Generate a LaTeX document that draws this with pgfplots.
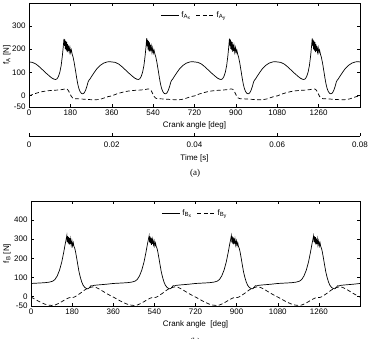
\documentclass[border=0pt]{standalone}
\usepackage{pgfplots}
\pgfplotsset{compat=1.18}
\usepackage{fontspec}
\setmainfont{Liberation Sans}
\newfontfamily\capfont{Liberation Serif}

\pgfplotsset{
  forceplot/.style={
    scale only axis,
    xmin=0, xmax=1440,
    xtick={0,180,360,540,720,900,1080,1260},
    xticklabels={0,180,360,540,720,900,1080,1260},
    tick align=inside,
    major tick length=3pt,
    tick style={black, line width=0.5pt},
    axis line style={black, line width=0.6pt},
    ticklabel style={font=\fontsize{8}{9}\selectfont},
    label style={font=\fontsize{8}{9}\selectfont},
    xticklabel style={yshift=1pt},
    legend style={draw=none, fill=none, at={(0.5,0.96)}, anchor=north,
      font=\fontsize{8}{9}\selectfont, legend columns=2,
      /tikz/every even column/.append style={column sep=3pt}},
    legend image code/.code={\draw[#1] (0pt,0pt) -- (18pt,0pt);},
  },
  solidcurve/.style={black, solid, no marks, line width=0.7pt},
  dashedcurve/.style={black, no marks, line width=0.7pt, dash pattern=on 4pt off 2.5pt},
}

\begin{document}
\begin{tikzpicture}
\path[use as bounding box] (0pt,0pt) rectangle (369pt,339pt);

% ---------- (a) forces at joint A ----------
\begin{axis}[forceplot,
  at={(29pt,232pt)}, anchor=south west,
  width=331pt, height=104pt,
  ymin=-50, ymax=400,
  ytick={-50,0,100,200,300},
  yticklabels={-50,0,100,200,300},
  xlabel={Crank angle [deg]},
  xlabel style={at={(axis description cs:0.5,-0.18)}, anchor=center},
  ylabel={f\textsubscript{A} [N]},
  ylabel style={at={(axis description cs:-0.067,0.5)}, anchor=center},
]
\addplot[solidcurve] coordinates {
(0,145)(15,143)(30,136)(45,124)(60,110)(75,96)(90,83)(100,75)(110,70)(116,69)(122,72)(128,82)(134,100)(140,130)(145,170)(149,210)(152,245)(154,215)(156,242)(158,200)(160,235)(162,195)(164,232)(166,188)(168,222)(170,192)(172,215)(175,188)(178,208)(181,185)(184,198)(188,178)(192,165)(197,140)(202,110)(207,78)(212,50)(217,30)(222,17)(228,9)(234,7)(240,11)(246,22)(252,40)(257,58)(261,66)(266,72)(272,82)(282,97)(295,115)(310,130)(325,140)(340,145)(350,146)
(360,145)(375,143)(390,136)(405,124)(420,110)(435,96)(450,83)(460,75)(470,70)(476,69)(482,72)(488,82)(494,100)(500,130)(505,170)(509,210)(512,248)(514,212)(516,240)(518,198)(520,236)(522,192)(524,230)(526,190)(528,220)(530,194)(532,212)(535,186)(538,206)(541,184)(544,196)(548,178)(552,165)(557,140)(562,110)(567,78)(572,50)(577,30)(582,17)(588,9)(594,7)(600,11)(606,22)(612,40)(617,58)(621,66)(626,72)(632,82)(642,97)(655,115)(670,130)(685,140)(700,145)(710,146)
(720,145)(735,143)(750,136)(765,124)(780,110)(795,96)(810,83)(820,75)(830,70)(836,69)(842,72)(848,82)(854,100)(860,130)(865,170)(869,210)(872,246)(874,214)(876,243)(878,202)(880,234)(882,196)(884,231)(886,189)(888,221)(890,193)(892,214)(895,187)(898,207)(901,185)(904,197)(908,178)(912,165)(917,140)(922,110)(927,78)(932,50)(937,30)(942,17)(948,9)(954,7)(960,11)(966,22)(972,40)(977,58)(981,66)(986,72)(992,82)(1002,97)(1015,115)(1030,130)(1045,140)(1060,145)(1070,146)
(1080,145)(1095,143)(1110,136)(1125,124)(1140,110)(1155,96)(1170,83)(1180,75)(1190,70)(1196,69)(1202,72)(1208,82)(1214,100)(1220,130)(1225,170)(1229,210)(1232,247)(1234,213)(1236,241)(1238,199)(1240,236)(1242,194)(1244,231)(1246,188)(1248,222)(1250,192)(1252,214)(1255,187)(1258,207)(1261,185)(1264,197)(1268,178)(1272,165)(1277,140)(1282,110)(1287,78)(1292,50)(1297,30)(1302,17)(1308,9)(1314,7)(1320,11)(1326,22)(1332,40)(1337,58)(1341,66)(1346,72)(1352,82)(1362,97)(1375,115)(1390,130)(1405,140)(1420,145)(1430,146)(1440,145)
};
\addlegendentry{f\textsubscript{A\textsubscript{x}}}
\addplot[dashedcurve] coordinates {
(0,-2)(20,6)(40,12)(60,17)(80,20)(100,22)(120,23)(140,25)(158,28)(166,27)(172,20)(178,8)(184,-4)(190,-11)(198,-14)(220,-15)(250,-17)(280,-19)(300,-18)(315,-15)(330,-10)(345,-5)
(360,-2)(380,6)(400,12)(420,17)(440,20)(460,22)(480,23)(500,25)(518,28)(526,27)(532,20)(538,8)(544,-4)(550,-11)(558,-14)(580,-15)(610,-17)(640,-19)(660,-18)(675,-15)(690,-10)(705,-5)
(720,-2)(740,6)(760,12)(780,17)(800,20)(820,22)(840,23)(860,25)(878,28)(886,27)(892,20)(898,8)(904,-4)(910,-11)(918,-14)(940,-15)(970,-17)(1000,-19)(1020,-18)(1035,-15)(1050,-10)(1065,-5)
(1080,-2)(1100,6)(1120,12)(1140,17)(1160,20)(1180,22)(1200,23)(1220,25)(1238,28)(1246,27)(1252,20)(1258,8)(1264,-4)(1270,-11)(1278,-14)(1300,-15)(1330,-17)(1360,-19)(1380,-18)(1395,-15)(1410,-10)(1425,-5)(1440,-2)
};
\addlegendentry{f\textsubscript{A\textsubscript{y}}}
\end{axis}

% ---------- time scale under (a) ----------
\begin{axis}[
  at={(29pt,203pt)}, anchor=south west,
  scale only axis, width=331pt, height=1pt,
  xmin=0, xmax=0.08, ymin=0, ymax=1,
  axis y line=none, axis x line*=bottom,
  scaled x ticks=false,
  xtick={0,0.02,0.04,0.06,0.08},
  xticklabels={0,0.02,0.04,0.06,0.08},
  tick align=inside, major tick length=3pt,
  tick style={black, line width=0.5pt},
  axis line style={black, line width=0.6pt},
  ticklabel style={font=\fontsize{8}{9}\selectfont},
  xticklabel style={yshift=-2pt},
  xlabel={Time [s]},
  xlabel style={font=\fontsize{8}{9}\selectfont, at={(axis description cs:0.5,0)}, anchor=center, yshift=-22pt},
]
\end{axis}

\node[font=\capfont\fontsize{9}{10}\selectfont] at (195pt,166pt) {(a)};

% ---------- (b) forces at joint B ----------
\begin{axis}[forceplot,
  at={(31pt,33pt)}, anchor=south west,
  width=329pt, height=105pt,
  ymin=-50, ymax=500,
  ytick={-50,0,100,200,300,400},
  yticklabels={-50,0,100,200,300,400},
  xlabel={Crank angle\ \ [deg]},
  xlabel style={at={(axis description cs:0.5,-0.18)}, anchor=center},
  ylabel={f\textsubscript{B} [N]},
  ylabel style={at={(axis description cs:-0.073,0.5)}, anchor=center},
]
\addplot[solidcurve] coordinates {
(0,68)(30,70)(60,72)(80,75)(95,80)(105,89)(115,108)(125,138)(135,182)(143,230)(149,270)(154,300)(157,320)(159,285)(161,316)(163,278)(165,310)(167,272)(169,305)(171,276)(173,300)(176,268)(179,292)(182,265)(185,282)(188,262)(192,250)(196,228)(200,200)(205,165)(210,130)(216,100)(222,76)(228,59)(235,48)(242,42)(248,40)(253,43)(258,50)(262,56)(268,55)(275,58)(290,60)(310,62)(330,64)(345,66)
(360,68)(390,70)(420,72)(440,75)(455,80)(465,89)(475,108)(485,138)(495,182)(503,230)(509,270)(514,300)(517,318)(519,283)(521,314)(523,280)(525,308)(527,270)(529,304)(531,275)(533,298)(536,270)(539,290)(542,264)(545,280)(548,262)(552,250)(556,228)(560,200)(565,165)(570,130)(576,100)(582,76)(588,59)(595,48)(602,42)(608,40)(613,43)(618,50)(622,56)(628,55)(635,58)(650,60)(670,62)(690,64)(705,66)
(720,68)(750,70)(780,72)(800,75)(815,80)(825,89)(835,108)(845,138)(855,182)(863,230)(869,270)(874,300)(877,319)(879,284)(881,315)(883,277)(885,309)(887,273)(889,304)(891,277)(893,299)(896,269)(899,291)(902,266)(905,281)(908,262)(912,250)(916,228)(920,200)(925,165)(930,130)(936,100)(942,76)(948,59)(955,48)(962,42)(968,40)(973,43)(978,50)(982,56)(988,55)(995,58)(1010,60)(1030,62)(1050,64)(1065,66)
(1080,68)(1110,70)(1140,72)(1160,75)(1175,80)(1185,89)(1195,108)(1205,138)(1215,182)(1223,230)(1229,270)(1234,300)(1237,318)(1239,286)(1241,314)(1243,279)(1245,310)(1247,271)(1249,303)(1251,276)(1253,300)(1256,268)(1259,291)(1262,265)(1265,282)(1268,262)(1272,250)(1276,228)(1280,200)(1285,165)(1290,130)(1296,100)(1302,76)(1308,59)(1315,48)(1322,42)(1328,40)(1333,43)(1338,50)(1342,56)(1348,55)(1355,58)(1370,60)(1390,62)(1410,64)(1425,66)(1440,68)
};
\addlegendentry{f\textsubscript{B\textsubscript{x}}}
\addplot[dashedcurve] coordinates {
(0,-3)(15,-13)(30,-23)(45,-32)(60,-40)(75,-45)(90,-47)(105,-45)(120,-37)(135,-27)(150,-16)(162,-9)(170,-6)(180,-6)(188,-4)(195,0)(205,8)(215,16)(225,25)(235,34)(245,41)(255,46)(265,49)(275,50)(285,47)(300,38)(315,27)(330,16)(345,6)
(360,-3)(375,-13)(390,-23)(405,-32)(420,-40)(435,-45)(450,-47)(465,-45)(480,-37)(495,-27)(510,-16)(522,-9)(530,-6)(540,-6)(548,-4)(555,0)(565,8)(575,16)(585,25)(595,34)(605,41)(615,46)(625,49)(635,50)(645,47)(660,38)(675,27)(690,16)(705,6)
(720,-3)(735,-13)(750,-23)(765,-32)(780,-40)(795,-45)(810,-47)(825,-45)(840,-37)(855,-27)(870,-16)(882,-9)(890,-6)(900,-6)(908,-4)(915,0)(925,8)(935,16)(945,25)(955,34)(965,41)(975,46)(985,49)(995,50)(1005,47)(1020,38)(1035,27)(1050,16)(1065,6)
(1080,-3)(1095,-13)(1110,-23)(1125,-32)(1140,-40)(1155,-45)(1170,-47)(1185,-45)(1200,-37)(1215,-27)(1230,-16)(1242,-9)(1250,-6)(1260,-6)(1268,-4)(1275,0)(1285,8)(1295,16)(1305,25)(1315,34)(1325,41)(1335,46)(1345,49)(1355,50)(1365,47)(1380,38)(1395,27)(1410,16)(1425,6)(1440,-3)
};
\addlegendentry{f\textsubscript{B\textsubscript{y}}}
\end{axis}

\node[font=\capfont\fontsize{9}{10}\selectfont] at (195pt,-3pt) {(b)};
\end{tikzpicture}
\end{document}
